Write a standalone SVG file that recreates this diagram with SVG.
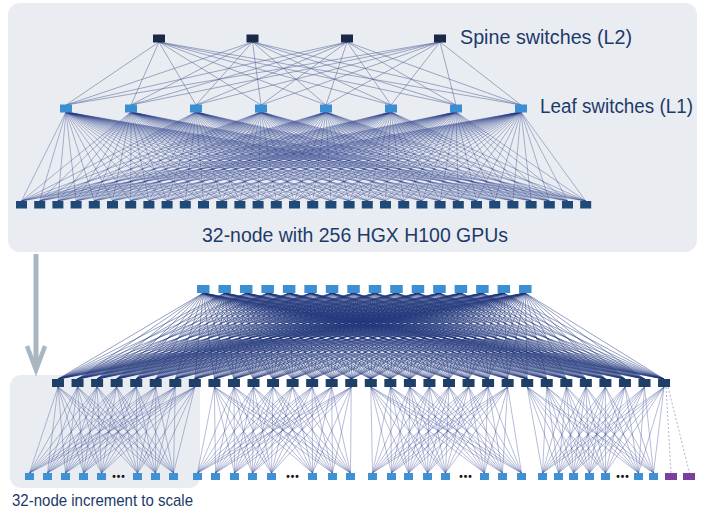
<svg xmlns="http://www.w3.org/2000/svg" xmlns:xlink="http://www.w3.org/1999/xlink" width="705" height="511" viewBox="0 0 705 511">
<style>
.panel{fill:#e9edf1}
.lbl{font-family:"Liberation Sans",Arial,sans-serif;fill:#1e3a6b}
.sp{fill:#1b2846}
.lf{fill:#3b8ed1}
.tn{fill:#1f4a78}
.bs{fill:#3b8fd2}
.bl{fill:#1e3f66}
.bn{fill:#3e91d2}
.pn{fill:#7b3f9f}
.sl{fill:none;stroke:#55649a;stroke-width:0.6;stroke-opacity:0.9}
.fan{fill:none;stroke:#263b88;stroke-width:0.5;stroke-opacity:0.72;vector-effect:non-scaling-stroke}
.fanb{fill:none;stroke:#1f3479;stroke-width:0.55;stroke-opacity:0.85;vector-effect:non-scaling-stroke}
.fang{fill:none;stroke:#3e4f95;stroke-width:0.5;stroke-opacity:0.75;vector-effect:non-scaling-stroke}
.dash{fill:none;stroke:#7a80a8;stroke-width:0.6;stroke-dasharray:2 2}
.dots{font-family:"Liberation Sans",Arial,sans-serif;font-size:10px;font-weight:bold;fill:#111;letter-spacing:1px;text-anchor:middle}
</style>
<defs>
<path id="fanTop" class="fan" d="M0 0L21.5 89M0 0L39.7 89M0 0L57.9 89M0 0L76.1 89M0 0L94.3 89M0 0L112.5 89M0 0L130.7 89M0 0L148.9 89M0 0L167.1 89M0 0L185.3 89M0 0L203.5 89M0 0L221.7 89M0 0L239.9 89M0 0L258.1 89M0 0L276.3 89M0 0L294.5 89M0 0L312.7 89M0 0L330.9 89M0 0L349.1 89M0 0L367.3 89M0 0L385.5 89M0 0L403.7 89M0 0L421.9 89M0 0L440.1 89M0 0L458.3 89M0 0L476.5 89M0 0L494.7 89M0 0L512.9 89M0 0L531.1 89M0 0L549.3 89M0 0L567.5 89M0 0L585.7 89"/>
<path id="fanSL" class="fanb" d="M0 0L58 86M0 0L77.55 86M0 0L97.1 86M0 0L116.65 86M0 0L136.2 86M0 0L155.75 86M0 0L175.3 86M0 0L194.85 86M0 0L214.4 86M0 0L233.95 86M0 0L253.5 86M0 0L273.05 86M0 0L292.6 86M0 0L312.15 86M0 0L331.7 86M0 0L351.25 86M0 0L370.8 86M0 0L390.35 86M0 0L409.9 86M0 0L429.45 86M0 0L449 86M0 0L468.55 86M0 0L488.1 86M0 0L507.65 86M0 0L527.2 86M0 0L546.75 86M0 0L566.3 86M0 0L585.85 86M0 0L605.4 86M0 0L624.95 86M0 0L644.5 86M0 0L664.05 86"/>
<path id="fanG1" class="fang" d="M0 0L29.5 86M0 0L47.5 86M0 0L65.5 86M0 0L83.5 86M0 0L101.5 86M0 0L137.5 86M0 0L155.5 86M0 0L173.5 86"/>
<path id="fanG2" class="fang" d="M0 0L197.5 86M0 0L215.5 86M0 0L234.5 86M0 0L252.5 86M0 0L271.5 86M0 0L312.5 86M0 0L332.5 86M0 0L350.5 86"/>
<path id="fanG3" class="fang" d="M0 0L372.5 86M0 0L391.5 86M0 0L408.5 86M0 0L427.5 86M0 0L445.5 86M0 0L484.5 86M0 0L502.5 86M0 0L521.5 86"/>
<path id="fanG4" class="fang" d="M0 0L542.5 86M0 0L558.5 86M0 0L573.5 86M0 0L589.5 86M0 0L605.5 86M0 0L638.5 86M0 0L653.5 86"/>
</defs>

<rect class="panel" x="8" y="3" width="689" height="249" rx="12"/>
<rect class="panel" x="10" y="375" width="190" height="113" rx="11"/>

<g id="arrow" fill="none" stroke="#a9b7c2">
<line x1="36" y1="254" x2="36" y2="368" stroke-width="5"/>
<path d="M27 346L36 370L45 346" stroke-width="4.5"/>
</g>

<g id="connectors">
<path class="sl" d="M159 42L66 105M159 42L131 105M159 42L196 105M159 42L261 105M159 42L326 105M159 42L391 105M159 42L456 105M159 42L521 105M252.5 42L66 105M252.5 42L131 105M252.5 42L196 105M252.5 42L261 105M252.5 42L326 105M252.5 42L391 105M252.5 42L456 105M252.5 42L521 105M347 42L66 105M347 42L131 105M347 42L196 105M347 42L261 105M347 42L326 105M347 42L391 105M347 42L456 105M347 42L521 105M440 42L66 105M440 42L131 105M440 42L196 105M440 42L261 105M440 42L326 105M440 42L391 105M440 42L456 105M440 42L521 105"/>
<use xlink:href="#fanTop" transform="matrix(1 0 -0.74157 1 66 112)"/>
<use xlink:href="#fanTop" transform="matrix(1 0 -1.47191 1 131 112)"/>
<use xlink:href="#fanTop" transform="matrix(1 0 -2.20225 1 196 112)"/>
<use xlink:href="#fanTop" transform="matrix(1 0 -2.93258 1 261 112)"/>
<use xlink:href="#fanTop" transform="matrix(1 0 -3.66292 1 326 112)"/>
<use xlink:href="#fanTop" transform="matrix(1 0 -4.39326 1 391 112)"/>
<use xlink:href="#fanTop" transform="matrix(1 0 -5.12360 1 456 112)"/>
<use xlink:href="#fanTop" transform="matrix(1 0 -5.85393 1 521 112)"/>

<use xlink:href="#fanSL" transform="matrix(1 0 -2.36337 1 203.25 293)"/>
<use xlink:href="#fanSL" transform="matrix(1 0 -2.61302 1 224.72 293)"/>
<use xlink:href="#fanSL" transform="matrix(1 0 -2.86267 1 246.19 293)"/>
<use xlink:href="#fanSL" transform="matrix(1 0 -3.11233 1 267.66 293)"/>
<use xlink:href="#fanSL" transform="matrix(1 0 -3.36198 1 289.13 293)"/>
<use xlink:href="#fanSL" transform="matrix(1 0 -3.61163 1 310.60 293)"/>
<use xlink:href="#fanSL" transform="matrix(1 0 -3.86128 1 332.07 293)"/>
<use xlink:href="#fanSL" transform="matrix(1 0 -4.11093 1 353.54 293)"/>
<use xlink:href="#fanSL" transform="matrix(1 0 -4.36058 1 375.01 293)"/>
<use xlink:href="#fanSL" transform="matrix(1 0 -4.61023 1 396.48 293)"/>
<use xlink:href="#fanSL" transform="matrix(1 0 -4.85988 1 417.95 293)"/>
<use xlink:href="#fanSL" transform="matrix(1 0 -5.10953 1 439.42 293)"/>
<use xlink:href="#fanSL" transform="matrix(1 0 -5.35919 1 460.89 293)"/>
<use xlink:href="#fanSL" transform="matrix(1 0 -5.60884 1 482.36 293)"/>
<use xlink:href="#fanSL" transform="matrix(1 0 -5.85849 1 503.83 293)"/>
<use xlink:href="#fanSL" transform="matrix(1 0 -6.10814 1 525.30 293)"/>

<use xlink:href="#fanG1" transform="matrix(1 0 -0.67442 1 58 387)"/>
<use xlink:href="#fanG1" transform="matrix(1 0 -0.90174 1 77.55 387)"/>
<use xlink:href="#fanG1" transform="matrix(1 0 -1.12907 1 97.1 387)"/>
<use xlink:href="#fanG1" transform="matrix(1 0 -1.35640 1 116.65 387)"/>
<use xlink:href="#fanG1" transform="matrix(1 0 -1.58372 1 136.2 387)"/>
<use xlink:href="#fanG1" transform="matrix(1 0 -1.81105 1 155.75 387)"/>
<use xlink:href="#fanG1" transform="matrix(1 0 -2.03837 1 175.3 387)"/>
<use xlink:href="#fanG1" transform="matrix(1 0 -2.26570 1 194.85 387)"/>
<use xlink:href="#fanG2" transform="matrix(1 0 -2.49302 1 214.4 387)"/>
<use xlink:href="#fanG2" transform="matrix(1 0 -2.72035 1 233.95 387)"/>
<use xlink:href="#fanG2" transform="matrix(1 0 -2.94767 1 253.5 387)"/>
<use xlink:href="#fanG2" transform="matrix(1 0 -3.17500 1 273.05 387)"/>
<use xlink:href="#fanG2" transform="matrix(1 0 -3.40233 1 292.6 387)"/>
<use xlink:href="#fanG2" transform="matrix(1 0 -3.62965 1 312.15 387)"/>
<use xlink:href="#fanG2" transform="matrix(1 0 -3.85698 1 331.7 387)"/>
<use xlink:href="#fanG2" transform="matrix(1 0 -4.08430 1 351.25 387)"/>
<use xlink:href="#fanG3" transform="matrix(1 0 -4.31163 1 370.8 387)"/>
<use xlink:href="#fanG3" transform="matrix(1 0 -4.53895 1 390.35 387)"/>
<use xlink:href="#fanG3" transform="matrix(1 0 -4.76628 1 409.9 387)"/>
<use xlink:href="#fanG3" transform="matrix(1 0 -4.99360 1 429.45 387)"/>
<use xlink:href="#fanG3" transform="matrix(1 0 -5.22093 1 449 387)"/>
<use xlink:href="#fanG3" transform="matrix(1 0 -5.44826 1 468.55 387)"/>
<use xlink:href="#fanG3" transform="matrix(1 0 -5.67558 1 488.1 387)"/>
<use xlink:href="#fanG3" transform="matrix(1 0 -5.90291 1 507.65 387)"/>
<use xlink:href="#fanG4" transform="matrix(1 0 -6.13023 1 527.2 387)"/>
<use xlink:href="#fanG4" transform="matrix(1 0 -6.35756 1 546.75 387)"/>
<use xlink:href="#fanG4" transform="matrix(1 0 -6.58488 1 566.3 387)"/>
<use xlink:href="#fanG4" transform="matrix(1 0 -6.81221 1 585.85 387)"/>
<use xlink:href="#fanG4" transform="matrix(1 0 -7.03953 1 605.4 387)"/>
<use xlink:href="#fanG4" transform="matrix(1 0 -7.26686 1 624.95 387)"/>
<use xlink:href="#fanG4" transform="matrix(1 0 -7.49419 1 644.5 387)"/>
<use xlink:href="#fanG4" transform="matrix(1 0 -7.72151 1 664.05 387)"/>
<path class="dash" d="M666 387L671 473M668 387L689.5 473"/>
</g>

<g id="spine-l2">
<g id="s1"><rect class="sp" x="153" y="34.5" width="12" height="8"/></g>
<g id="s2"><rect class="sp" x="246.5" y="34.5" width="12" height="8"/></g>
<g id="s3"><rect class="sp" x="341" y="34.5" width="12" height="8"/></g>
<g id="s4"><rect class="sp" x="434" y="34.5" width="12" height="8"/></g>
</g>
<g id="leaf-l1">
<g id="l1"><rect class="lf" x="60" y="104.5" width="12" height="8"/></g>
<g id="l2"><rect class="lf" x="125" y="104.5" width="12" height="8"/></g>
<g id="l3"><rect class="lf" x="190" y="104.5" width="12" height="8"/></g>
<g id="l4"><rect class="lf" x="255" y="104.5" width="12" height="8"/></g>
<g id="l5"><rect class="lf" x="320" y="104.5" width="12" height="8"/></g>
<g id="l6"><rect class="lf" x="385" y="104.5" width="12" height="8"/></g>
<g id="l7"><rect class="lf" x="450" y="104.5" width="12" height="8"/></g>
<g id="l8"><rect class="lf" x="515" y="104.5" width="12" height="8"/></g>
</g>
<g id="top-nodes">
<g id="n1"><rect class="tn" x="16" y="201" width="11" height="7.5"/></g>
<g id="n2"><rect class="tn" x="34.2" y="201" width="11" height="7.5"/></g>
<g id="n3"><rect class="tn" x="52.4" y="201" width="11" height="7.5"/></g>
<g id="n4"><rect class="tn" x="70.6" y="201" width="11" height="7.5"/></g>
<g id="n5"><rect class="tn" x="88.8" y="201" width="11" height="7.5"/></g>
<g id="n6"><rect class="tn" x="107" y="201" width="11" height="7.5"/></g>
<g id="n7"><rect class="tn" x="125.2" y="201" width="11" height="7.5"/></g>
<g id="n8"><rect class="tn" x="143.4" y="201" width="11" height="7.5"/></g>
<g id="n9"><rect class="tn" x="161.6" y="201" width="11" height="7.5"/></g>
<g id="n10"><rect class="tn" x="179.8" y="201" width="11" height="7.5"/></g>
<g id="n11"><rect class="tn" x="198" y="201" width="11" height="7.5"/></g>
<g id="n12"><rect class="tn" x="216.2" y="201" width="11" height="7.5"/></g>
<g id="n13"><rect class="tn" x="234.4" y="201" width="11" height="7.5"/></g>
<g id="n14"><rect class="tn" x="252.6" y="201" width="11" height="7.5"/></g>
<g id="n15"><rect class="tn" x="270.8" y="201" width="11" height="7.5"/></g>
<g id="n16"><rect class="tn" x="289" y="201" width="11" height="7.5"/></g>
<g id="n17"><rect class="tn" x="307.2" y="201" width="11" height="7.5"/></g>
<g id="n18"><rect class="tn" x="325.4" y="201" width="11" height="7.5"/></g>
<g id="n19"><rect class="tn" x="343.6" y="201" width="11" height="7.5"/></g>
<g id="n20"><rect class="tn" x="361.8" y="201" width="11" height="7.5"/></g>
<g id="n21"><rect class="tn" x="380" y="201" width="11" height="7.5"/></g>
<g id="n22"><rect class="tn" x="398.2" y="201" width="11" height="7.5"/></g>
<g id="n23"><rect class="tn" x="416.4" y="201" width="11" height="7.5"/></g>
<g id="n24"><rect class="tn" x="434.6" y="201" width="11" height="7.5"/></g>
<g id="n25"><rect class="tn" x="452.8" y="201" width="11" height="7.5"/></g>
<g id="n26"><rect class="tn" x="471" y="201" width="11" height="7.5"/></g>
<g id="n27"><rect class="tn" x="489.2" y="201" width="11" height="7.5"/></g>
<g id="n28"><rect class="tn" x="507.4" y="201" width="11" height="7.5"/></g>
<g id="n29"><rect class="tn" x="525.6" y="201" width="11" height="7.5"/></g>
<g id="n30"><rect class="tn" x="543.8" y="201" width="11" height="7.5"/></g>
<g id="n31"><rect class="tn" x="562" y="201" width="11" height="7.5"/></g>
<g id="n32"><rect class="tn" x="580.2" y="201" width="11" height="7.5"/></g>
</g>

<g id="bottom-spines">
<g id="bs1"><rect class="bs" x="197" y="285" width="12.5" height="8"/></g>
<g id="bs2"><rect class="bs" x="218.47" y="285" width="12.5" height="8"/></g>
<g id="bs3"><rect class="bs" x="239.94" y="285" width="12.5" height="8"/></g>
<g id="bs4"><rect class="bs" x="261.41" y="285" width="12.5" height="8"/></g>
<g id="bs5"><rect class="bs" x="282.88" y="285" width="12.5" height="8"/></g>
<g id="bs6"><rect class="bs" x="304.35" y="285" width="12.5" height="8"/></g>
<g id="bs7"><rect class="bs" x="325.82" y="285" width="12.5" height="8"/></g>
<g id="bs8"><rect class="bs" x="347.29" y="285" width="12.5" height="8"/></g>
<g id="bs9"><rect class="bs" x="368.76" y="285" width="12.5" height="8"/></g>
<g id="bs10"><rect class="bs" x="390.23" y="285" width="12.5" height="8"/></g>
<g id="bs11"><rect class="bs" x="411.7" y="285" width="12.5" height="8"/></g>
<g id="bs12"><rect class="bs" x="433.17" y="285" width="12.5" height="8"/></g>
<g id="bs13"><rect class="bs" x="454.64" y="285" width="12.5" height="8"/></g>
<g id="bs14"><rect class="bs" x="476.11" y="285" width="12.5" height="8"/></g>
<g id="bs15"><rect class="bs" x="497.58" y="285" width="12.5" height="8"/></g>
<g id="bs16"><rect class="bs" x="519.05" y="285" width="12.5" height="8"/></g>
</g>

<g id="bottom-leaves">
<g id="bl1"><rect class="bl" x="52" y="379" width="12" height="8"/></g>
<g id="bl2"><rect class="bl" x="71.55" y="379" width="12" height="8"/></g>
<g id="bl3"><rect class="bl" x="91.1" y="379" width="12" height="8"/></g>
<g id="bl4"><rect class="bl" x="110.65" y="379" width="12" height="8"/></g>
<g id="bl5"><rect class="bl" x="130.2" y="379" width="12" height="8"/></g>
<g id="bl6"><rect class="bl" x="149.75" y="379" width="12" height="8"/></g>
<g id="bl7"><rect class="bl" x="169.3" y="379" width="12" height="8"/></g>
<g id="bl8"><rect class="bl" x="188.85" y="379" width="12" height="8"/></g>
<g id="bl9"><rect class="bl" x="208.4" y="379" width="12" height="8"/></g>
<g id="bl10"><rect class="bl" x="227.95" y="379" width="12" height="8"/></g>
<g id="bl11"><rect class="bl" x="247.5" y="379" width="12" height="8"/></g>
<g id="bl12"><rect class="bl" x="267.05" y="379" width="12" height="8"/></g>
<g id="bl13"><rect class="bl" x="286.6" y="379" width="12" height="8"/></g>
<g id="bl14"><rect class="bl" x="306.15" y="379" width="12" height="8"/></g>
<g id="bl15"><rect class="bl" x="325.7" y="379" width="12" height="8"/></g>
<g id="bl16"><rect class="bl" x="345.25" y="379" width="12" height="8"/></g>
<g id="bl17"><rect class="bl" x="364.8" y="379" width="12" height="8"/></g>
<g id="bl18"><rect class="bl" x="384.35" y="379" width="12" height="8"/></g>
<g id="bl19"><rect class="bl" x="403.9" y="379" width="12" height="8"/></g>
<g id="bl20"><rect class="bl" x="423.45" y="379" width="12" height="8"/></g>
<g id="bl21"><rect class="bl" x="443" y="379" width="12" height="8"/></g>
<g id="bl22"><rect class="bl" x="462.55" y="379" width="12" height="8"/></g>
<g id="bl23"><rect class="bl" x="482.1" y="379" width="12" height="8"/></g>
<g id="bl24"><rect class="bl" x="501.65" y="379" width="12" height="8"/></g>
<g id="bl25"><rect class="bl" x="521.2" y="379" width="12" height="8"/></g>
<g id="bl26"><rect class="bl" x="540.75" y="379" width="12" height="8"/></g>
<g id="bl27"><rect class="bl" x="560.3" y="379" width="12" height="8"/></g>
<g id="bl28"><rect class="bl" x="579.85" y="379" width="12" height="8"/></g>
<g id="bl29"><rect class="bl" x="599.4" y="379" width="12" height="8"/></g>
<g id="bl30"><rect class="bl" x="618.95" y="379" width="12" height="8"/></g>
<g id="bl31"><rect class="bl" x="638.5" y="379" width="12" height="8"/></g>
<g id="bl32"><rect class="bl" x="658.05" y="379" width="12" height="8"/></g>
</g>

<g id="bottom-nodes">
<g id="g1n1"><rect class="bn" x="25" y="473" width="9" height="7"/></g>
<g id="g1n2"><rect class="bn" x="43" y="473" width="9" height="7"/></g>
<g id="g1n3"><rect class="bn" x="61" y="473" width="9" height="7"/></g>
<g id="g1n4"><rect class="bn" x="79" y="473" width="9" height="7"/></g>
<g id="g1n5"><rect class="bn" x="97" y="473" width="9" height="7"/></g>
<g id="g1n6"><rect class="bn" x="133" y="473" width="9" height="7"/></g>
<g id="g1n7"><rect class="bn" x="151" y="473" width="9" height="7"/></g>
<g id="g1n8"><rect class="bn" x="169" y="473" width="9" height="7"/></g>
<g id="g2n1"><rect class="bn" x="193" y="473" width="9" height="7"/></g>
<g id="g2n2"><rect class="bn" x="211" y="473" width="9" height="7"/></g>
<g id="g2n3"><rect class="bn" x="230" y="473" width="9" height="7"/></g>
<g id="g2n4"><rect class="bn" x="248" y="473" width="9" height="7"/></g>
<g id="g2n5"><rect class="bn" x="267" y="473" width="9" height="7"/></g>
<g id="g2n6"><rect class="bn" x="308" y="473" width="9" height="7"/></g>
<g id="g2n7"><rect class="bn" x="328" y="473" width="9" height="7"/></g>
<g id="g2n8"><rect class="bn" x="346" y="473" width="9" height="7"/></g>
<g id="g3n1"><rect class="bn" x="368" y="473" width="9" height="7"/></g>
<g id="g3n2"><rect class="bn" x="387" y="473" width="9" height="7"/></g>
<g id="g3n3"><rect class="bn" x="404" y="473" width="9" height="7"/></g>
<g id="g3n4"><rect class="bn" x="423" y="473" width="9" height="7"/></g>
<g id="g3n5"><rect class="bn" x="441" y="473" width="9" height="7"/></g>
<g id="g3n6"><rect class="bn" x="480" y="473" width="9" height="7"/></g>
<g id="g3n7"><rect class="bn" x="498" y="473" width="9" height="7"/></g>
<g id="g3n8"><rect class="bn" x="517" y="473" width="9" height="7"/></g>
<g id="g4n1"><rect class="bn" x="538" y="473" width="9" height="7"/></g>
<g id="g4n2"><rect class="bn" x="554" y="473" width="9" height="7"/></g>
<g id="g4n3"><rect class="bn" x="569" y="473" width="9" height="7"/></g>
<g id="g4n4"><rect class="bn" x="585" y="473" width="9" height="7"/></g>
<g id="g4n5"><rect class="bn" x="601" y="473" width="9" height="7"/></g>
<g id="g4n6"><rect class="bn" x="634" y="473" width="9" height="7"/></g>
<g id="g4n7"><rect class="bn" x="649" y="473" width="9" height="7"/></g>
<g id="p1"><rect class="pn" x="665" y="473" width="12" height="7"/></g>
<g id="p2"><rect class="pn" x="683" y="473" width="12" height="7"/></g>
<text class="dots" x="119" y="480">•••</text>
<text class="dots" x="293" y="480">•••</text>
<text class="dots" x="466" y="480">•••</text>
<text class="dots" x="623" y="480">•••</text>
</g>

<text class="lbl" x="460" y="44" font-size="20" textLength="172" lengthAdjust="spacingAndGlyphs">Spine switches (L2)</text>
<text class="lbl" x="540" y="113" font-size="20" textLength="153" lengthAdjust="spacingAndGlyphs">Leaf switches (L1)</text>
<text class="lbl" x="202" y="242" font-size="20" textLength="306" lengthAdjust="spacingAndGlyphs">32-node with 256 HGX H100 GPUs</text>
<text class="lbl" x="12" y="506" font-size="17" textLength="181" lengthAdjust="spacingAndGlyphs">32-node increment to scale</text>
</svg>
